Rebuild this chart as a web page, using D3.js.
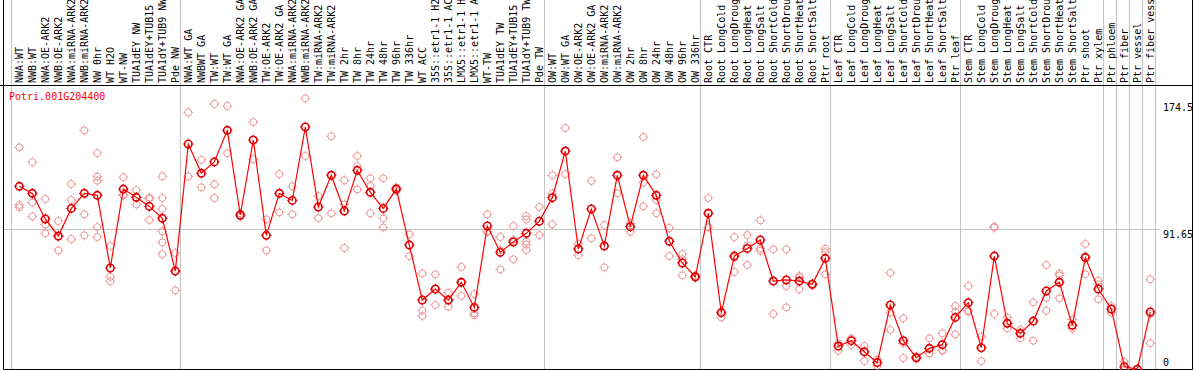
<!DOCTYPE html>
<html>
<head>
<meta charset="utf-8">
<script src="https://cdn.jsdelivr.net/npm/d3@7"></script>
<style>
  body { margin: 0; background: #fff; }
  svg { display: block; }
  text { font-family: "DejaVu Sans Mono", monospace; font-size: 10px; }
</style>
</head>
<body>
<div id="chart"></div>
<script>
// sample names, one per column
var samples = [
  "NWA:WT", "NWB:WT", "NWA:OE-ARK2", "NWB:OE-ARK2", "NWA:miRNA-ARK2", "NWB:miRNA-ARK2",
  "NW 0hr", "WT H2O", "WT-NW", "TUA1dEY NW", "TUA1dEY+TUB15 NW", "TUA1dY+TUB9 NW", "Pde NW",
  "NWA:WT GA", "NWBWT GA", "TW:WT", "TW:WT GA", "NWA:OE-ARK2 GA", "NWB:OE-ARK2 GA",
  "TW:OE-ARK2", "TW:OE-ARK2 GA", "NWA:miRNA-ARK2 GA", "NWB:miRNA-ARK2 GA", "TW:miRNA-ARK2",
  "TW:miRNA-ARK2 GA", "TW 2hr", "TW 8hr", "TW 24hr", "TW 48hr", "TW 96hr", "TW 336hr",
  "WT ACC", "35S::etr1-1 H2O", "35S::etr1-1 ACC", "LMX5::etr1-1 H2O", "LMX5::etr1-1 ACC",
  "WT-TW", "TUA1dEY TW", "TUA1dEY+TUB15 TW", "TUA1dY+TUB9 TW", "Pde TW",
  "OW:WT", "OW:WT GA", "OW:OE-ARK2", "OW:OE-ARK2 GA", "OW:miRNA-ARK2", "OW:miRNA-ARK2 GA",
  "OW 2hr", "OW 8hr", "OW 24hr", "OW 48hr", "OW 96hr", "OW 336hr",
  "Root CTR", "Root LongCold", "Root LongDrought", "Root LongHeat", "Root LongSalt",
  "Root ShortCold", "Root ShortDrought", "Root ShortHeat", "Root ShortSalt", "Ptr root",
  "Leaf CTR", "Leaf LongCold", "Leaf LongDrought", "Leaf LongHeat", "Leaf LongSalt",
  "Leaf ShortCold", "Leaf ShortDrought", "Leaf ShortHeat", "Leaf ShortSalt", "Ptr leaf",
  "Stem CTR", "Stem LongCold", "Stem LongDrought", "Stem LongHeat", "Stem LongSalt",
  "Stem ShortCold", "Stem ShortDrought", "Stem ShortHeat", "Stem ShortSalt", "Ptr shoot",
  "Ptr xylem", "Ptr phloem", "Ptr fiber", "Ptr vessel", "Ptr fiber vessel"
];

// first column of every group (a grey separator sits in front of it)
var groupStarts = [0, 13, 41, 53, 63, 73, 84, 85, 86, 87, 88];

// mean expression per sample
var means = [
  119.5, 114.9, 98.2, 87.1, 105.1, 114.9, 113.6, 66.2, 117.7, 112.3, 106.4, 98.6, 64.2,
  147.1, 128.0, 135.4, 156.0, 100.8, 149.7, 87.5, 114.9, 110.3, 158.2, 106.0, 126.7,
  103.4, 129.9, 115.6, 105.1, 117.7, 81.2, 45.3, 52.5, 45.3, 56.9, 40.5, 93.6, 76.4,
  83.2, 88.8, 96.7,
  112.1, 142.5, 78.6, 104.7, 80.6, 126.7, 93.2, 126.7, 113.6, 83.6, 69.5, 60.5,
  101.9, 37.1, 74.0, 79.0, 84.5, 57.7, 58.4, 57.7, 55.6, 72.5,
  15.3, 18.8, 11.6, 4.5, 42.1, 18.8, 7.7, 13.8, 16.2, 34.0,
  43.6, 14.2, 74.0, 30.1, 23.6, 31.6, 51.2, 56.9, 28.8, 73.0, 52.5,
  39.5, 1.8, 0.2, 37.5
];

// replicate values per sample
var replicates = [
  [144.9, 107.3, 105.8], [135.3, 109.0, 99.9], [111.2, 94.5, 88.8], [96.9, 86.6, 77.7],
  [121.0, 110.6, 85.1], [156.0, 101.2, 87.5], [141.2, 125.8, 123.2, 92.9, 86.4],
  [80.6, 60.5, 57.5], [125.4, 114.0, 113.6], [117.1, 112.3, 107.7], [112.1, 111.2, 97.5],
  [126.0, 111.9, 104.7, 90.1, 82.9, 75.3], [76.0, 64.2, 51.6],
  [167.7, 126.0], [136.7, 118.8], [173.2, 120.8, 111.9], [171.9, 141.0],
  [101.9, 100.1, 99.7], [161.4, 137.1], [97.9, 77.7], [127.5, 102.5], [119.5, 101.2],
  [176.9, 139.3], [113.2, 98.8], [152.1, 101.9], [123.4, 107.7, 79.3],
  [139.3, 132.7, 117.5], [124.7, 119.7, 101.9], [124.7, 98.6, 92.7],
  [118.8, 117.7, 116.6], [88.2, 74.0], [62.7, 38.4, 34.9], [62.1, 52.5, 42.1],
  [50.1, 45.3, 41.0], [66.9, 56.9, 48.0], [49.2, 36.6, 35.3], [101.2, 89.7, 89.9],
  [86.4, 77.9, 65.3], [93.6, 84.5, 71.9], [100.1, 97.9, 83.4, 81.4, 77.9], [106.0, 87.7],
  [126.7, 114.7, 94.7], [157.5, 127.5], [81.9, 74.5], [123.0, 85.6], [94.2, 66.6],
  [138.4, 114.9], [95.3, 89.9], [151.7, 121.9, 106.4], [127.3, 110.6, 101.9],
  [92.3, 74.0], [75.3, 71.9, 61.4], [61.4, 60.5, 59.7],
  [111.9, 92.7], [37.9, 34.0], [86.4, 72.9, 63.6], [87.7, 81.0, 68.2], [97.3, 79.0, 77.5],
  [78.4, 36.2], [78.4, 54.5, 40.5], [61.0, 60.1, 52.3], [56.2, 54.9], [78.8, 76.6, 62.1],
  [17.1, 12.3], [20.3, 16.0], [15.3, 5.5], [6.6, 2.3], [63.0, 37.1, 25.8],
  [33.4, 17.1, 7.5], [8.4, 7.1], [20.3, 10.5, 10.5], [23.6, 12.7, 12.3],
  [41.4, 37.7, 22.9],
  [54.5, 38.4, 37.7], [21.4, 5.5], [93.2, 92.5, 36.2], [34.0, 26.8], [25.8, 20.3],
  [43.8, 18.8], [68.2, 46.9, 38.4], [62.7, 61.4, 46.4], [32.7, 26.6],
  [81.9, 74.0, 62.1], [57.9, 55.6, 45.8],
  [41.4, 37.1], [4.9, 0], [0.3, 0], [58.8, 36.2, 17.1]
];

var yTicks = [174.5, 91.65, 0];
var gridValues = [91.65];
var geneName = "Potri.001G204400";

var width = 1194,
  height = 370,
  plotTop = 85.5,
  plotBottom = 369.5,
  plotLeft = 3.5,
  plotRight = 1192.5;

var svg = d3.select("#chart").append("svg")
  .attr("width", width)
  .attr("height", height);

var x = d3.scaleBand()
  .domain(d3.range(samples.length))
  .range([10.8, 10.8 + 13 * samples.length]);

var y = d3.scaleLinear()
  .domain([0, 174.5])
  .range([369.5, 102]);

var cx = function (i) { return x(i) + 8.5; };

svg.append("defs").append("clipPath")
  .attr("id", "plotClip")
  .append("rect")
  .attr("x", plotLeft)
  .attr("y", plotTop)
  .attr("width", plotRight - plotLeft)
  .attr("height", plotBottom - plotTop);

// grey group separators, full height
svg.selectAll(".sep")
  .data(groupStarts)
  .enter()
  .append("line")
  .attr("class", "sep")
  .attr("x1", function (i) { return Math.round(i < samples.length ? x(i) : x(samples.length - 1) + x.step()) + 0.5; })
  .attr("x2", function (i) { return Math.round(i < samples.length ? x(i) : x(samples.length - 1) + x.step()) + 0.5; })
  .attr("y1", 0)
  .attr("y2", height)
  .attr("stroke", "#c4c4c4")
  .attr("stroke-width", 1);

// horizontal grid
svg.selectAll(".hgrid")
  .data(gridValues)
  .enter()
  .append("line")
  .attr("class", "hgrid")
  .attr("x1", plotLeft)
  .attr("x2", 1160)
  .attr("y1", function (d) { return Math.round(y(d)) + 0.5; })
  .attr("y2", function (d) { return Math.round(y(d)) + 0.5; })
  .attr("stroke", "#c4c4c4");

// frame
var frame = svg.append("g").attr("stroke", "#000").attr("stroke-width", 1);
frame.append("line").attr("x1", plotLeft).attr("x2", plotLeft).attr("y1", 0).attr("y2", plotBottom);
frame.append("line").attr("x1", 0).attr("x2", plotRight).attr("y1", plotTop).attr("y2", plotTop);
frame.append("line").attr("x1", plotLeft).attr("x2", plotRight).attr("y1", plotBottom).attr("y2", plotBottom);
frame.append("line").attr("x1", plotRight).attr("x2", plotRight).attr("y1", 0).attr("y2", plotBottom);

// rotated sample labels
svg.selectAll(".lbl")
  .data(samples)
  .enter()
  .append("text")
  .attr("class", "lbl")
  .attr("transform", function (d, i) {
    return "translate(" + (cx(i) + 3.5) + "," + 83 + ")rotate(-90)";
  })
  .attr("fill", "#000")
  .text(function (d) { return d; });

// y labels on the right
svg.selectAll(".ylbl")
  .data(yTicks)
  .enter()
  .append("text")
  .attr("class", "ylbl")
  .attr("x", 1163)
  .attr("y", function (d) { return d === 0 ? y(d) - 3.5 : y(d) + 8.5; })
  .attr("fill", "#000")
  .text(function (d) { return d; });

svg.append("text")
  .attr("x", 9)
  .attr("y", 100)
  .attr("fill", "#f00")
  .text(geneName);

var plot = svg.append("g").attr("clip-path", "url(#plotClip)");

var marker = function (sel, r, color, w) {
  sel.append("circle")
    .attr("r", r)
    .attr("fill", "none")
    .attr("stroke", color)
    .attr("stroke-width", w);
  sel.append("path")
    .attr("d", "M0," + (-r - 1.5) + "V" + (-r + 0.5) + "M0," + (r - 0.5) + "V" + (r + 1.5) +
      "M" + (-r - 1.5) + ",0H" + (-r + 0.5) + "M" + (r - 0.5) + ",0H" + (r + 1.5))
    .attr("stroke", color)
    .attr("stroke-width", 1);
};

// replicates
var repPts = [];
replicates.forEach(function (vals, i) {
  vals.forEach(function (v) { repPts.push({ i: i, v: v }); });
});
plot.selectAll(".rep")
  .data(repPts)
  .enter()
  .append("g")
  .attr("class", "rep")
  .attr("transform", function (d) { return "translate(" + cx(d.i) + "," + y(d.v) + ")"; })
  .call(marker, 3.5, "#ee9a9a", 1);

// mean line
plot.append("path")
  .datum(means)
  .attr("fill", "none")
  .attr("stroke", "#f00")
  .attr("stroke-width", 1.2)
  .attr("d", d3.line()
    .x(function (d, i) { return cx(i); })
    .y(function (d) { return y(d); }));

plot.selectAll(".mean")
  .data(means)
  .enter()
  .append("g")
  .attr("class", "mean")
  .attr("transform", function (d, i) { return "translate(" + cx(i) + "," + y(d) + ")"; })
  .call(marker, 3.7, "#e00000", 1.6);
</script>
</body>
</html>
